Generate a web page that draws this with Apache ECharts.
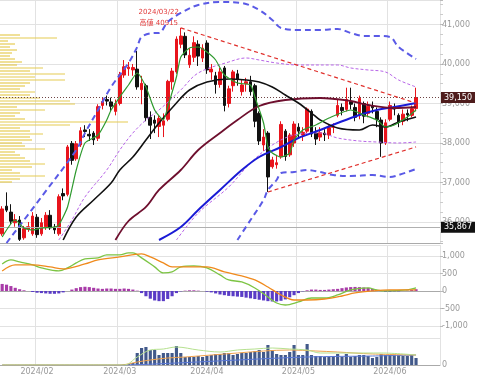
<!DOCTYPE html>
<html><head><meta charset="utf-8">
<script src="https://cdn.jsdelivr.net/npm/echarts@6/dist/echarts.min.js"></script>
<style>html,body{margin:0;padding:0;background:#fff}#c{width:480px;height:385px}</style>
</head><body><div id="c"></div>
<script>
// ---------- data ----------
const dates = ['2024/01/22','2024/01/23','2024/01/24','2024/01/25','2024/01/26','2024/01/29','2024/01/30','2024/01/31',
'2024/02/01','2024/02/02','2024/02/05','2024/02/06','2024/02/07','2024/02/08','2024/02/09','2024/02/13','2024/02/14','2024/02/15','2024/02/16','2024/02/19','2024/02/20','2024/02/21','2024/02/22','2024/02/26','2024/02/27','2024/02/28','2024/02/29',
'2024/03/01','2024/03/04','2024/03/05','2024/03/06','2024/03/07','2024/03/08','2024/03/11','2024/03/12','2024/03/13','2024/03/14','2024/03/15','2024/03/18','2024/03/19','2024/03/21','2024/03/22','2024/03/25','2024/03/26','2024/03/27','2024/03/28','2024/03/29',
'2024/04/01','2024/04/02','2024/04/03','2024/04/04','2024/04/05','2024/04/08','2024/04/09','2024/04/10','2024/04/11','2024/04/12','2024/04/15','2024/04/16','2024/04/17','2024/04/18','2024/04/19','2024/04/22','2024/04/23','2024/04/24','2024/04/25','2024/04/26','2024/04/30',
'2024/05/01','2024/05/02','2024/05/07','2024/05/08','2024/05/09','2024/05/10','2024/05/13','2024/05/14','2024/05/15','2024/05/16','2024/05/17','2024/05/20','2024/05/21','2024/05/22','2024/05/23','2024/05/24','2024/05/27','2024/05/28','2024/05/29','2024/05/30','2024/05/31',
'2024/06/03','2024/06/04','2024/06/05','2024/06/06','2024/06/07','2024/06/10','2024/06/11'];
const emptySlots = ['','','','',''];

const opens = [35700,36400,36250,35980,36050,35600,35820,35700,36120,35700,35880,36170,35870,35700,36720,36700,37990,37600,37950,38330,38220,38250,38120,38950,39100,39040,38800,
39000,39720,39880,39850,39870,39350,39450,38650,38580,38420,38450,38600,39550,39800,40500,40700,39980,40170,40500,40150,
40530,39800,39700,39480,39900,39000,39450,39750,39300,39500,39550,39450,38750,37950,38250,37400,37450,37650,38300,37700,38000,
38400,38200,38300,38800,38250,38150,38250,38200,38400,38700,38900,38850,39050,38900,38700,39000,38750,38950,38800,38580,38000,
38600,38900,38700,38550,38750,38700,38870];
const closes = [36330,36300,36020,36060,35560,35830,35880,36150,35680,35980,36170,35850,35800,36640,36660,37900,37560,37980,38310,38290,38180,38080,38920,39050,39060,38930,39000,
39730,39930,39920,39910,39420,39510,38640,38450,38500,38620,38560,39560,39820,40630,40708,40230,40220,40540,40200,40400,
39850,39870,39480,39800,38950,39370,39800,39610,39470,39550,39300,38550,38050,38150,37140,37570,37500,38470,37660,38200,38480,
38300,38270,38860,38230,38100,38260,38210,38390,38410,38950,38820,39100,38980,38650,39130,38680,38930,38890,38590,38000,38510,
38950,38860,38520,38730,38710,38870,39150];
const lows = [35650,36250,35950,35880,35520,35550,35750,35650,35600,35650,35800,35800,35700,35650,36550,36650,37450,37550,37900,38150,38050,37950,38050,38850,38950,38800,38700,
38950,39650,39700,39700,39350,38980,38550,38100,38250,38150,38150,38550,39350,39750,40400,40150,39900,40050,39950,40050,
39750,39600,39250,39400,38800,38900,39300,39450,39200,39300,39200,38400,37950,37800,36760,37350,37350,37600,37550,37650,37900,
38150,38050,38250,38150,37950,38050,38050,38100,38250,38650,38700,38800,38850,38550,38600,38500,38650,38750,38400,37650,37950,
38550,38700,38400,38450,38550,38650,38800];
const highs = [36400,36750,36450,36200,36150,35900,36000,36250,36200,36100,36250,36300,35950,36700,36850,37950,38050,38050,38400,38450,38350,38300,38980,39150,39200,39150,39100,
39800,40100,40050,40000,40330,39700,39500,38800,38700,38700,38750,39600,39900,40700,40915,40800,40400,40700,40600,40500,
40600,40000,39800,39900,39950,39450,39850,39850,39600,39650,39700,39500,38800,38350,38300,37650,37700,38550,38350,38250,38550,
38500,38400,38900,38850,38400,38400,38350,38450,38500,39100,39000,39400,39400,39000,39200,39050,39050,39050,38900,38650,38600,
39050,39000,38750,38850,38850,38950,39400];

// moving averages / bands: [day index, price]
const ma5 = [[0,35620],[3,36050],[5,35848],[7,35797],[9,35848],[12,35873],[13,35924],[15,36379],[17,37316],[19,38000],[22,38202],[24,38582],[25,38835],[27,39164],[29,39468],[31,39772],[33,39418],[35,38835],[37,38582],[38,38911],[40,39671],[41,40177],[43,40405],[45,40430],[47,40304],[49,40101],[51,39721],[54,39519],[57,39468],[58,39164],[60,38506],[61,37898],[62,37746],[64,37645],[66,37746],[67,38076],[69,38329],[72,38456],[75,38633],[80,38835],[83,38709],[86,38582],[88,38405],[90,38456],[93,38658],[95,38835]];
const ma25 = [[14,35544],[17,36126],[21,36557],[25,36987],[27,37316],[30,37645],[33,38076],[36,38506],[40,39012],[43,39342],[47,39544],[52,39620],[56,39595],[59,39544],[62,39418],[65,39215],[68,39012],[71,38759],[73,38582],[77,38380],[82,38329],[85,38456],[88,38405],[91,38532],[95,38658]];
const ma75 = [[26,35544],[29,36025],[33,36380],[36,36810],[41,37316],[45,37822],[50,38253],[54,38582],[59,38936],[65,39088],[73,39139],[80,39063],[84,38962],[90,38886],[95,38911]];
const maLong = [[36,35544],[41,35873],[45,36303],[50,36810],[55,37316],[59,37645],[64,37898],[68,38126],[73,38329],[77,38506],[82,38709],[86,38835],[90,38911],[95,39012]];
const bandUp1 = [[13,35544],[16,36050],[19,36633],[24,37316],[27,37822],[30,38253],[33,38582],[36,38835],[41,39342],[45,39772],[52,40050],[56,40152],[59,40101],[63,40025],[68,39975],[77,39975],[80,39899],[84,39848],[88,39797],[91,39595],[95,39418]];
const bandLow1 = [[40,35544],[45,36227],[52,36886],[57,37493],[62,37949],[67,38202],[73,38253],[77,38126],[82,38050],[86,38025],[91,38000],[95,38025]];
const bandUp2 = [[1,35468],[9,36633],[17,37822],[19,38250],[22,38835],[25,39418],[29,40025],[31,40430],[32,40684],[35,40785],[36,40785],[38,41063],[41,41291],[45,41494],[50,41570],[55,41544],[59,41367],[62,41114],[64,40911],[68,40861],[73,40861],[77,40886],[80,40785],[83,40709],[86,40709],[89,40684],[91,40430],[95,40126]];
const bandLow2 = [[54,35544],[57,36050],[60,36557],[61,36810],[63,37063],[64,37240],[67,37265],[70,37316],[73,37265],[76,37189],[80,37164],[85,37189],[89,37139],[91,37189],[95,37341]];
const trendHigh = [[41,40915],[95,39010]];
const trendLow = [[61,36760],[95,37900]];

const highDate = '2024/03/22';
const highText = '高値';
const refLow = 35867;

// MACD
const macdLine = [[0,770],[2,886],[4,829],[7,743],[9,657],[13,571],[15,657],[17,800],[19,914],[22,943],[24,1029],[27,1029],[29,1086],[30,1086],[32,943],[35,686],[37,514],[39,543],[41,686],[44,714],[47,657],[50,457],[52,314],[55,257],[58,86],[61,-171],[63,-343],[65,-400],[68,-314],[71,-200],[74,-200],[77,-114],[80,29],[84,86],[86,29],[88,0],[93,29],[95,86]];
const signalLine = [[0,571],[3,743],[7,743],[11,686],[14,629],[19,771],[22,886],[27,971],[32,1057],[34,971],[37,800],[39,686],[42,686],[47,686],[51,543],[55,429],[58,314],[61,114],[64,-114],[67,-257],[70,-257],[74,-229],[78,-143],[81,-57],[85,0],[89,29],[95,29]];
const macdHist = [200,180,140,90,50,20,0,-30,-50,-60,-70,-80,-80,-70,-40,0,40,80,110,120,110,90,70,60,70,70,60,60,70,60,40,10,-60,-150,-220,-270,-290,-290,-230,-150,-60,-10,10,20,20,10,0,-20,-40,-70,-100,-120,-140,-150,-160,-170,-190,-210,-230,-250,-270,-290,-300,-300,-280,-240,-180,-120,-60,-10,20,40,40,30,30,40,50,60,80,100,110,115,110,100,90,60,30,0,-20,-20,-10,-10,0,10,30,50];

// volume (thousand contracts)
const volume = [0,0,0,0,0,0,0,0,0,0,0,0,0,0,0,0,0,0,0,0,0,0,0,0,0,0,0,0,1,1,2,
12,17,18,15,15,10,12,12,12,19,12,8,8,8,9,8,9,10,11,11,12,12,10,11,12,12,13,14,15,13,20,15,11,10,10,13,20,10,10,21,10,9,9,8,8,9,11,8,11,8,9,10,10,9,7,8,11,10,10,10,10,9,9,10,7];
const volShort = [[0,0],[28,0],[31,8],[34,15],[37,16],[40,18],[45,15],[50,13],[54,15],[58,16],[62,17],[66,16],[70,15],[73,12],[80,12],[87,12],[95,10]];
const volMid = [[0,0],[27,0],[31,3],[34,5],[38,7],[42,8],[48,10],[54,12],[60,14],[66,15],[72,14],[77,13],[85,11],[95,10]];
const volLong = [[0,0],[27,0],[40,2],[54,5],[70,8],[85,9],[95,10]];

// volume-by-price profile
const profilePrices = [40734,40658,40582,40506,40430,40354,40278,40202,40126,40050,39974,39898,39822,39746,39670,39594,39518,39442,39366,39290,39214,39138,39062,38986,38910,38834,38758,38682,38606,38530,38454,38378,38302,38226,38150,38074,37998,37922,37846,37770,37694,37618,37542,37466,37390,37314,37238,37162,37086,37010];
const profileVol = [20,57,8,15,10,17,12,10,15,22,17,43,30,65,35,65,30,25,20,35,30,40,70,75,17,45,20,15,25,128,70,20,30,43,30,32,22,25,45,15,20,25,30,45,32,12,20,45,20,12];

// ---------- chart ----------
const FONT = 'DejaVu Sans';
const cats = dates.concat(emptySlots);
const ohlc = opens.map((o, i) => [o, closes[i], lows[i], highs[i]]);
const fmt = v => Math.round(v).toLocaleString('en-US');
const isMonthStart = (i, v) => i > 0 && !!v && !!cats[i-1] && v.slice(0,7) !== cats[i-1].slice(0,7);

function catAxis(gi, showLabel) {
  return {
    type: 'category', gridIndex: gi, data: cats, boundaryGap: true,
    axisLine: {show: true, lineStyle: {color: '#aaa', width: 1}},
    axisTick: {show: false},
    axisLabel: showLabel ? {show: true, interval: isMonthStart, formatter: v => v.slice(0,7), color: '#999', fontSize: 8, fontFamily: FONT, margin: 3} : {show: false},
    splitLine: {show: true, interval: isMonthStart, lineStyle: {color: '#e2e2e2', width: 1}}
  };
}
function valAxisStyle() {
  return {
    position: 'right',
    axisLine: {show: false},
    axisTick: {show: true, length: 3, lineStyle: {color: '#bbb'}},
    axisLabel: {color: '#999', fontSize: 8, fontFamily: FONT, margin: 2, formatter: fmt, showMinLabel: false, showMaxLabel: false},
    splitLine: {lineStyle: {color: '#e2e2e2', width: 1}}
  };
}
function line(data, color, width, type, xi, z, smooth) {
  return {
    type: 'line', xAxisIndex: xi, yAxisIndex: xi, data: data, showSymbol: false, symbol: 'none',
    smooth: smooth === undefined ? 0.35 : smooth, silent: true, z: z || 6,
    lineStyle: {color: color, width: width, type: type || 'solid'}
  };
}

const chart = echarts.init(document.getElementById('c'), null, {renderer: 'canvas'});
chart.setOption({
  animation: false,
  backgroundColor: '#fff',
  grid: [
    {left: 0, right: 40, top: 0, height: 243, outerBoundsMode: 'none'},
    {left: 0, right: 40, top: 245, height: 93, outerBoundsMode: 'none'},
    {left: 0, right: 40, top: 338, height: 27, outerBoundsMode: 'none'},
    {left: 0, right: 40, top: 33.5, height: 150, outerBoundsMode: 'none'}
  ],
  xAxis: [
    catAxis(0, false), catAxis(1, false), catAxis(2, true),
    {type: 'value', gridIndex: 3, min: 0, max: 440, show: false}
  ],
  yAxis: [
    Object.assign(valAxisStyle(), {type: 'value', gridIndex: 0, min: 35468, max: 41620, splitNumber: 6,
      minorTick: {show: true, splitNumber: 4, length: 3, lineStyle: {color: '#ccc'}}}),
    Object.assign(valAxisStyle(), {type: 'value', gridIndex: 1, min: -1340, max: 1310, splitNumber: 5}),
    Object.assign(valAxisStyle(), {type: 'value', gridIndex: 2, min: 0, max: 27, splitNumber: 1,
      axisTick: {show: false}, splitLine: {show: false},
      axisLabel: {color: '#999', fontSize: 8, fontFamily: FONT, margin: 2, formatter: v => v === 0 ? '0' : ''}}),
    {type: 'category', gridIndex: 3, data: profilePrices, inverse: true, show: false}
  ],
  series: [
    {type: 'bar', xAxisIndex: 3, yAxisIndex: 3, data: profileVol, barWidth: 1.2, silent: true, z: 1,
     itemStyle: {color: '#e6cb52'}},
    {type: 'candlestick', xAxisIndex: 0, yAxisIndex: 0, data: ohlc, barWidth: '72%', z: 4, silent: true,
     itemStyle: {color: '#e8141c', color0: '#111111', borderColor: '#e8141c', borderColor0: '#111111', borderWidth: 1},
     markPoint: {symbol: 'circle', symbolSize: 0, silent: true,
       data: [{coord: [41, highs[41]], value: highs[41]}],
       label: {show: true, position: 'top', distance: 1, offset: [-22, 2], color: '#e23b3b', fontSize: 7, lineHeight: 11,
         fontFamily: '"DejaVu Sans","Noto Sans CJK JP"', align: 'center',
         formatter: p => highDate + '\n' + highText + ' ' + p.value}},
     markLine: {symbol: 'none', silent: true, animation: false,
       data: [
         {yAxis: closes[closes.length-1], lineStyle: {color: '#6e4444', type: [1, 2], width: 1},
          label: {show: true, position: 'end', distance: 1, formatter: fmt(closes[closes.length-1]), color: '#fff', backgroundColor: '#4e1c1c',
            padding: [2, 3, 1, 3], fontSize: 8, fontFamily: FONT}},
         {yAxis: refLow, lineStyle: {color: '#b0b0b0', type: 'solid', width: 1},
          label: {show: true, position: 'end', distance: 1, formatter: fmt(refLow), color: '#fff', backgroundColor: '#111',
            padding: [2, 3, 1, 3], fontSize: 8, fontFamily: FONT}}
       ]}},
    line(bandUp2, '#5a5ae6', 2, [6, 4], 0, 6),
    line(bandLow2, '#5a5ae6', 2, [6, 4], 0, 6),
    line(bandUp1, '#b866e8', 1, [3, 2], 0, 6),
    line(bandLow1, '#b866e8', 1, [3, 2], 0, 6),
    line(maLong, '#1a1ad6', 2, 'solid', 0, 7),
    line(ma75, '#6e0f2e', 1.8, 'solid', 0, 7),
    line(ma25, '#111111', 1.6, 'solid', 0, 7),
    line(ma5, '#2f9a2f', 1.2, 'solid', 0, 8, 0.2),
    line(trendHigh, '#e0302c', 1.2, [4, 3], 0, 8, false),
    line(trendLow, '#e0302c', 1.2, [4, 3], 0, 8, false),
    {type: 'bar', xAxisIndex: 1, yAxisIndex: 1, data: macdHist, barWidth: '72%', silent: true, z: 3,
     itemStyle: {color: p => p.value >= 0 ? '#a83aa8' : '#5a3cc6'}},
    line(macdLine, '#7cc443', 1.3, 'solid', 1, 6),
    line(signalLine, '#f08a1c', 1.3, 'solid', 1, 6),
    {type: 'bar', xAxisIndex: 2, yAxisIndex: 2, data: volume, barWidth: '72%', silent: true, z: 3,
     itemStyle: {color: '#42598a'}},
    line(volLong, '#5b78d6', 1, 'solid', 2, 6),
    line(volMid, '#f0a24e', 1, 'solid', 2, 6),
    line(volShort, '#b5e08e', 1, 'solid', 2, 6)
  ]
});
</script>
</body></html>
